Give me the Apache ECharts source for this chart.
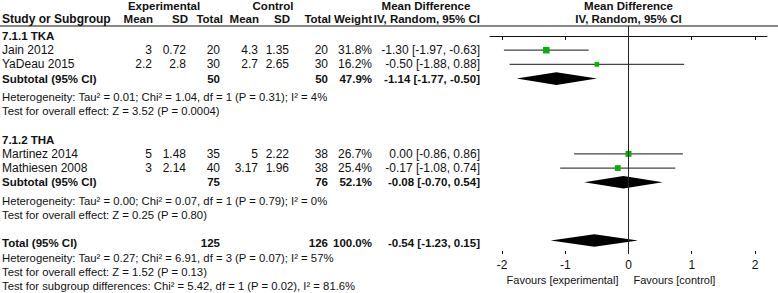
<!DOCTYPE html>
<html>
<head>
<meta charset="utf-8">
<script src="https://cdn.jsdelivr.net/npm/echarts@6/dist/echarts.min.js"></script>
<style>
  html, body { margin: 0; padding: 0; background: #fff; }
  #chart { width: 778px; height: 293px; }
</style>
</head>
<body>
<div id="chart"></div>
<script>
// --- data ---
const groupNames = ['7.1.1 TKA', '7.1.2 THA'];
const studyNames = ['Jain 2012', 'YaDeau 2015', 'Martinez 2014', 'Mathiesen 2008'];
const studyGroup = [0, 0, 1, 1];
const expMean = ['3', '2.2', '5', '3'];
const expSD = ['0.72', '2.8', '1.48', '2.14'];
const expTotal = [20, 30, 35, 40];
const ctlMean = ['4.3', '2.7', '5', '3.17'];
const ctlSD = ['1.35', '2.65', '2.22', '1.96'];
const ctlTotal = [20, 30, 38, 38];
const studyWeight = [31.8, 16.2, 26.7, 25.4];
const studyMD = [-1.30, -0.50, 0.00, -0.17];
const studyLo = [-1.97, -1.88, -0.86, -1.08];
const studyHi = [-0.63, 0.88, 0.86, 0.74];

const subExpTotal = [50, 75];
const subCtlTotal = [50, 76];
const subWeight = [47.9, 52.1];
const subMD = [-1.14, -0.08];
const subLo = [-1.77, -0.70];
const subHi = [-0.50, 0.54];
const subHetero = [
  'Heterogeneity: Tau² = 0.01; Chi² = 1.04, df = 1 (P = 0.31); I² = 4%',
  'Heterogeneity: Tau² = 0.00; Chi² = 0.07, df = 1 (P = 0.79); I² = 0%'
];
const subEffect = [
  'Test for overall effect: Z = 3.52 (P = 0.0004)',
  'Test for overall effect: Z = 0.25 (P = 0.80)'
];

const totalExp = 125;
const totalCtl = 126;
const totalWeight = 100.0;
const totalMD = -0.54;
const totalLo = -1.23;
const totalHi = 0.15;
const totalNotes = [
  'Heterogeneity: Tau² = 0.27; Chi² = 6.91, df = 3 (P = 0.07); I² = 57%',
  'Test for overall effect: Z = 1.52 (P = 0.13)',
  'Test for subgroup differences: Chi² = 5.42, df = 1 (P = 0.02), I² = 81.6%'
];

const xTicks = [-2, -1, 0, 1, 2];

// --- layout ---
const W = 778;
const FONT = "'Liberation Sans', Arial, sans-serif";
const FS_NUM = 12;     // numbers and study names
const FS_NOTE = 11.3;  // heterogeneity / test lines
const FS_BOLD = 11.5;  // headers and bold labels
const LH = 14.2;          // line height
const ROW0 = 36;          // centre of first table row
const HEAD_LINE = 26;     // header underline / top of plot
const AXIS_Y = 254;       // x axis position
const DIAMOND_GAP = 0.3;  // extra space under a subtotal row

// column right edges: [values, headers]
const cols = {
  eMean: [152, 153], eSD: [186, 188], eTot: [220, 223],
  cMean: [258, 259], cSD: [289, 290], cTot: [328, 331],
  weight: [372, 372], md: [480, 480]
};

function fmt2(v) { return v.toFixed(2); }
function ciText(m, l, h) { return fmt2(m) + ' [' + fmt2(l) + ', ' + fmt2(h) + ']'; }

// build rows (index r in line units)
const rows = [];
let r = 0;
groupNames.forEach((g, gi) => {
  if (gi > 0) r += 1;
  rows.push({ r: r, kind: 'title', text: g }); r += 1;
  studyNames.forEach((s, si) => {
    if (studyGroup[si] !== gi) return;
    rows.push({ r: r, kind: 'study', i: si }); r += 1;
  });
  rows.push({ r: r, kind: 'sub', i: gi }); r += 1 + DIAMOND_GAP;
  rows.push({ r: r, kind: 'note', text: subHetero[gi] }); r += 1;
  rows.push({ r: r, kind: 'note', text: subEffect[gi] }); r += 1;
});
r += 1;
rows.push({ r: r, kind: 'total' }); r += 1;
totalNotes.forEach(t => { rows.push({ r: r, kind: 'note', text: t }); r += 1; });

const studyData = rows.filter(d => d.kind === 'study').map(d =>
  [studyMD[d.i], studyLo[d.i], studyHi[d.i], d.r, studyWeight[d.i]]);
const diamondData = rows.filter(d => d.kind === 'sub').map(d =>
  [subMD[d.i], subLo[d.i], subHi[d.i], d.r]);
rows.filter(d => d.kind === 'total').forEach(d =>
  diamondData.push([totalMD, totalLo, totalHi, d.r - 0.2]));

const chart = echarts.init(document.getElementById('chart'), null, { renderer: 'svg' });

const axisBase = {
  type: 'value',
  min: -2.19,
  max: 2.19,
  position: 'bottom',
  splitLine: { show: false }
};

chart.setOption({
  animation: false,
  backgroundColor: '#fff',
  grid: { left: 490, right: 11, top: HEAD_LINE, height: AXIS_Y - HEAD_LINE },
  xAxis: [
    Object.assign({}, axisBase, {
      axisLine: { lineStyle: { color: '#111', width: 1 } },
      axisTick: { customValues: xTicks, length: 4, lineStyle: { color: '#111' } },
      axisLabel: { customValues: xTicks, color: '#111', fontFamily: FONT, fontSize: FS_NUM, margin: 5 }
    }),
    Object.assign({}, axisBase, {
      axisLine: { show: false },
      axisTick: { customValues: xTicks, inside: true, length: 3, lineStyle: { color: '#111' } },
      axisLabel: { show: false }
    })
  ],
  yAxis: {
    type: 'value',
    inverse: true,
    min: (HEAD_LINE - ROW0) / LH,
    max: (AXIS_Y - ROW0) / LH,
    show: false
  },
  series: [
    {
      type: 'custom',
      data: studyData,
      encode: { x: [0, 1, 2], y: 3 },
      renderItem: function (params, api) {
        const y = api.value(3);
        const a = api.coord([api.value(1), y]);
        const b = api.coord([api.value(2), y]);
        const c = api.coord([api.value(0), y]);
        const s = Math.sqrt(api.value(4)) * 1.15;
        return {
          type: 'group',
          children: [
            { type: 'line', shape: { x1: a[0], y1: a[1], x2: b[0], y2: b[1] },
              style: { stroke: '#444', lineWidth: 1.2 } },
            { type: 'rect', shape: { x: c[0] - s / 2, y: c[1] - s / 2, width: s, height: s },
              style: { fill: '#00b400' } }
          ]
        };
      }
    },
    {
      type: 'custom',
      data: diamondData,
      encode: { x: [0, 1, 2], y: 3 },
      renderItem: function (params, api) {
        const y = api.value(3);
        const l = api.coord([api.value(1), y]);
        const h = api.coord([api.value(2), y]);
        const m = api.coord([api.value(0), y]);
        const hh = 6.3;
        return {
          type: 'polygon',
          shape: { points: [[l[0], l[1]], [m[0], m[1] - hh], [h[0], h[1]], [m[0], m[1] + hh]] },
          style: { fill: '#000' }
        };
      },
      markLine: {
        silent: true,
        symbol: 'none',
        label: { show: false },
        lineStyle: { color: '#222', width: 1, type: 'solid' },
        data: [{ xAxis: 0 }]
      }
    }
  ]
});

// --- table text, placed on the same rows as the plot ---
const yPix = v => chart.convertToPixel({ yAxisIndex: 0 }, v);
const x0 = chart.convertToPixel({ xAxisIndex: 0 }, 0);

function txt(text, x, y, align, bold, size) {
  return {
    type: 'text',
    x: x, y: y,
    silent: true,
    style: {
      text: String(text),
      fill: '#111',
      font: (bold ? 'bold ' : '') + (size || (bold ? FS_BOLD : FS_NUM)) + 'px ' + FONT,
      textAlign: align || 'left',
      textVerticalAlign: 'middle'
    }
  };
}

const g = [];
// header
const h1 = ROW0 - 30, h2 = ROW0 - 17;
g.push(txt('Experimental', 164, h1, 'center', true));
g.push(txt('Control', 273, h1, 'center', true));
g.push(txt('Mean Difference', 426, h1, 'center', true));
g.push(txt('Mean Difference', x0, h1, 'center', true));
g.push(txt('Study or Subgroup', 2, h2, 'left', true, 12));
g.push(txt('Mean', cols.eMean[1], h2, 'right', true));
g.push(txt('SD', cols.eSD[1], h2, 'right', true));
g.push(txt('Total', cols.eTot[1], h2, 'right', true));
g.push(txt('Mean', cols.cMean[1], h2, 'right', true));
g.push(txt('SD', cols.cSD[1], h2, 'right', true));
g.push(txt('Total', cols.cTot[1], h2, 'right', true));
g.push(txt('Weight', cols.weight[1], h2, 'right', true));
g.push(txt('IV, Random, 95% CI', cols.md[1], h2, 'right', true));
g.push(txt('IV, Random, 95% CI', x0, h2, 'center', true));
g.push({ type: 'line', silent: true, shape: { x1: 0, y1: HEAD_LINE, x2: W, y2: HEAD_LINE },
  style: { stroke: '#111', lineWidth: 1 } });

rows.forEach(d => {
  const y = yPix(d.r);
  if (d.kind === 'title') {
    g.push(txt(d.text, 2, y, 'left', true));
  } else if (d.kind === 'note') {
    g.push(txt(d.text, 2, y, 'left', false, FS_NOTE));
  } else if (d.kind === 'study') {
    const i = d.i;
    g.push(txt(studyNames[i], 2, y, 'left', false));
    g.push(txt(expMean[i], cols.eMean[0], y, 'right'));
    g.push(txt(expSD[i], cols.eSD[0], y, 'right'));
    g.push(txt(expTotal[i], cols.eTot[0], y, 'right'));
    g.push(txt(ctlMean[i], cols.cMean[0], y, 'right'));
    g.push(txt(ctlSD[i], cols.cSD[0], y, 'right'));
    g.push(txt(ctlTotal[i], cols.cTot[0], y, 'right'));
    g.push(txt(studyWeight[i].toFixed(1) + '%', cols.weight[0], y, 'right'));
    g.push(txt(ciText(studyMD[i], studyLo[i], studyHi[i]), cols.md[0], y, 'right'));
  } else if (d.kind === 'sub') {
    const i = d.i;
    g.push(txt('Subtotal (95% CI)', 2, y, 'left', true));
    g.push(txt(subExpTotal[i], cols.eTot[0], y, 'right', true));
    g.push(txt(subCtlTotal[i], cols.cTot[0], y, 'right', true));
    g.push(txt(subWeight[i].toFixed(1) + '%', cols.weight[0], y, 'right', true));
    g.push(txt(ciText(subMD[i], subLo[i], subHi[i]), cols.md[0], y, 'right', true));
  } else if (d.kind === 'total') {
    g.push(txt('Total (95% CI)', 2, y, 'left', true));
    g.push(txt(totalExp, cols.eTot[0], y, 'right', true));
    g.push(txt(totalCtl, cols.cTot[0], y, 'right', true));
    g.push(txt(totalWeight.toFixed(1) + '%', cols.weight[0], y, 'right', true));
    g.push(txt(ciText(totalMD, totalLo, totalHi), cols.md[0], y, 'right', true));
  }
});

// favours labels under the axis
g.push(txt('Favours [experimental]', x0 - 10, 280, 'right', false, 11));
g.push(txt('Favours [control]', x0 + 5, 280, 'left', false, 11));

chart.setOption({ graphic: g });
</script>
</body>
</html>
